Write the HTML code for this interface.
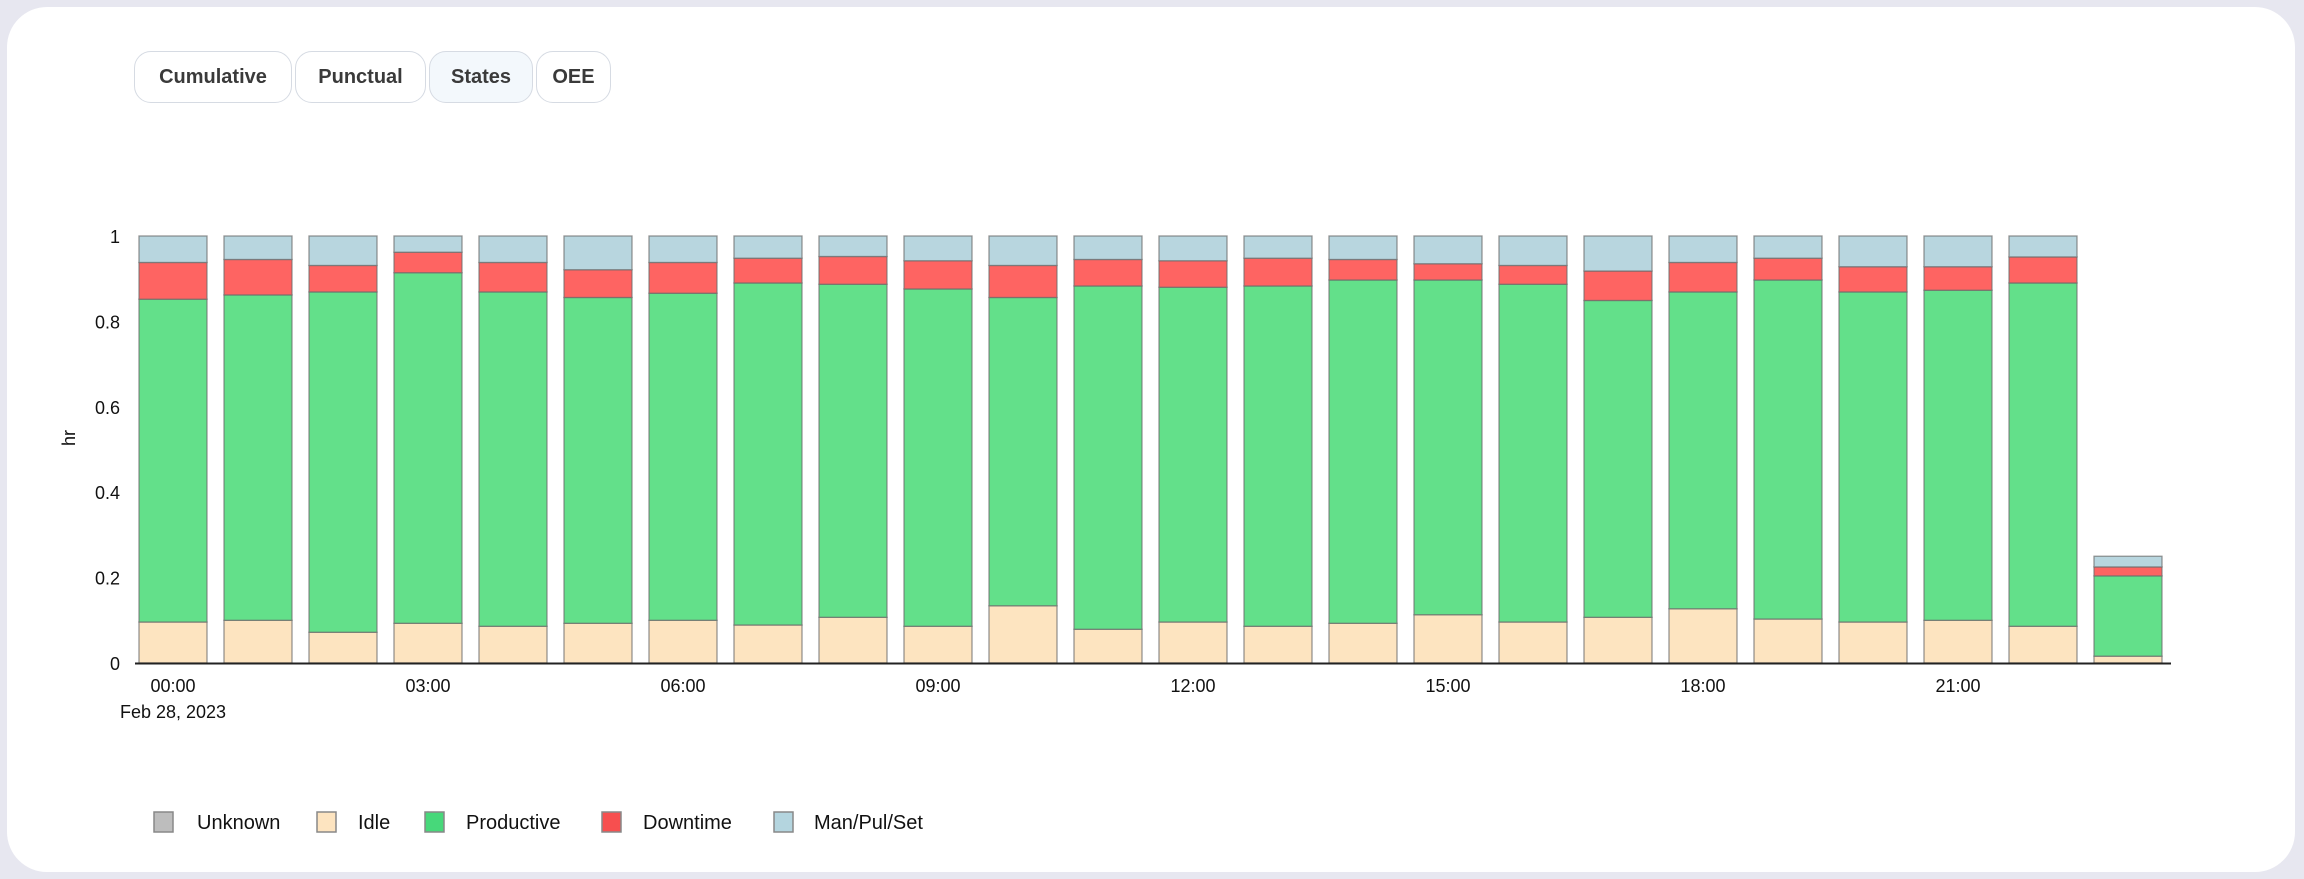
<!DOCTYPE html>
<html><head><meta charset="utf-8"><style>
html,body{margin:0;padding:0;width:2304px;height:879px;background:#e7e7f0;overflow:hidden;font-family:"Liberation Sans",sans-serif;}
.card{position:absolute;left:7px;top:7px;width:2288px;height:865px;background:#fff;border-radius:40px;}
.btn{position:absolute;top:51px;height:52px;border:1.5px solid #d6dbe3;border-radius:17px;box-sizing:border-box;font-weight:bold;font-size:20px;color:#3a3a3a;display:flex;align-items:center;justify-content:center;background:#fff;}
svg{position:absolute;left:0;top:0;}
</style></head><body>
<div class="card"></div>
<div class="btn" style="left:134px;width:158px">Cumulative</div>
<div class="btn" style="left:295px;width:131px">Punctual</div>
<div class="btn" style="left:429px;width:104px;background:#f3f8fc">States</div>
<div class="btn" style="left:536px;width:75px">OEE</div>
<svg id="c" width="2304" height="879" xmlns="http://www.w3.org/2000/svg" font-family="Liberation Sans, sans-serif"></svg>
<script>
var d=[[0.096,0.852,0.938,1],[0.1,0.862,0.945,1],[0.072,0.869,0.931,1],[0.093,0.914,0.962,1],[0.086,0.869,0.938,1],[0.093,0.856,0.921,1],[0.1,0.866,0.938,1],[0.089,0.89,0.948,1],[0.107,0.887,0.952,1],[0.086,0.876,0.942,1],[0.134,0.856,0.931,1],[0.079,0.883,0.945,1],[0.096,0.88,0.942,1],[0.086,0.883,0.948,1],[0.093,0.897,0.945,1],[0.113,0.897,0.935,1],[0.096,0.887,0.931,1],[0.107,0.849,0.918,1],[0.127,0.869,0.938,1],[0.103,0.897,0.948,1],[0.096,0.869,0.928,1],[0.1,0.873,0.928,1],[0.086,0.89,0.951,1],[0.016,0.204,0.225,0.25]];
var cols=["#fde4c0","#63e08a","#fe6462","#b8d6df"];
var s="",Y0=663,U=427;
function y(v){return Y0-U*v;}
d.forEach(function(b,i){var x=139+85*i,prev=0;
for(var k=0;k<4;k++){var t=b[k];s+='<rect x="'+x+'" y="'+y(t)+'" width="68" height="'+(U*(t-prev))+'" fill="'+cols[k]+'" stroke="#6b6b6b" stroke-opacity="0.7" stroke-width="1.3"/>';prev=t;}
});
s+='<line x1="135" y1="663.5" x2="2171" y2="663.5" stroke="#222" stroke-width="2"/>';
[0,0.2,0.4,0.6,0.8,1].forEach(function(v){s+='<text x="120" y="'+(y(v)+7)+'" text-anchor="end" font-size="18" fill="#111">'+(v===0?"0":v===1?"1":v)+'</text>';});
s+='<text transform="translate(75,438) rotate(-90)" text-anchor="middle" font-size="18" fill="#111">hr</text>';
["00:00","03:00","06:00","09:00","12:00","15:00","18:00","21:00"].forEach(function(l,j){var cx=139+85*3*j+34;s+='<text x="'+cx+'" y="692" text-anchor="middle" font-size="18" fill="#111">'+l+'</text>';});
s+='<text x="173" y="718" text-anchor="middle" font-size="18" fill="#111">Feb 28, 2023</text>';
var lg=[[154,197,"#bdbdbd","Unknown"],[317,358,"#fde4c0","Idle"],[425,466,"#47d87a","Productive"],[602,643,"#f74f4f","Downtime"],[774,814,"#b4d5df","Man/Pul/Set"]];
lg.forEach(function(l){s+='<rect x="'+l[0]+'" y="812" width="19" height="20" fill="'+l[2]+'" stroke="#888" stroke-width="1.5"/><text x="'+l[1]+'" y="829" font-size="20" fill="#111">'+l[3]+'</text>';});
document.getElementById("c").innerHTML=s;
</script>
</body></html>
